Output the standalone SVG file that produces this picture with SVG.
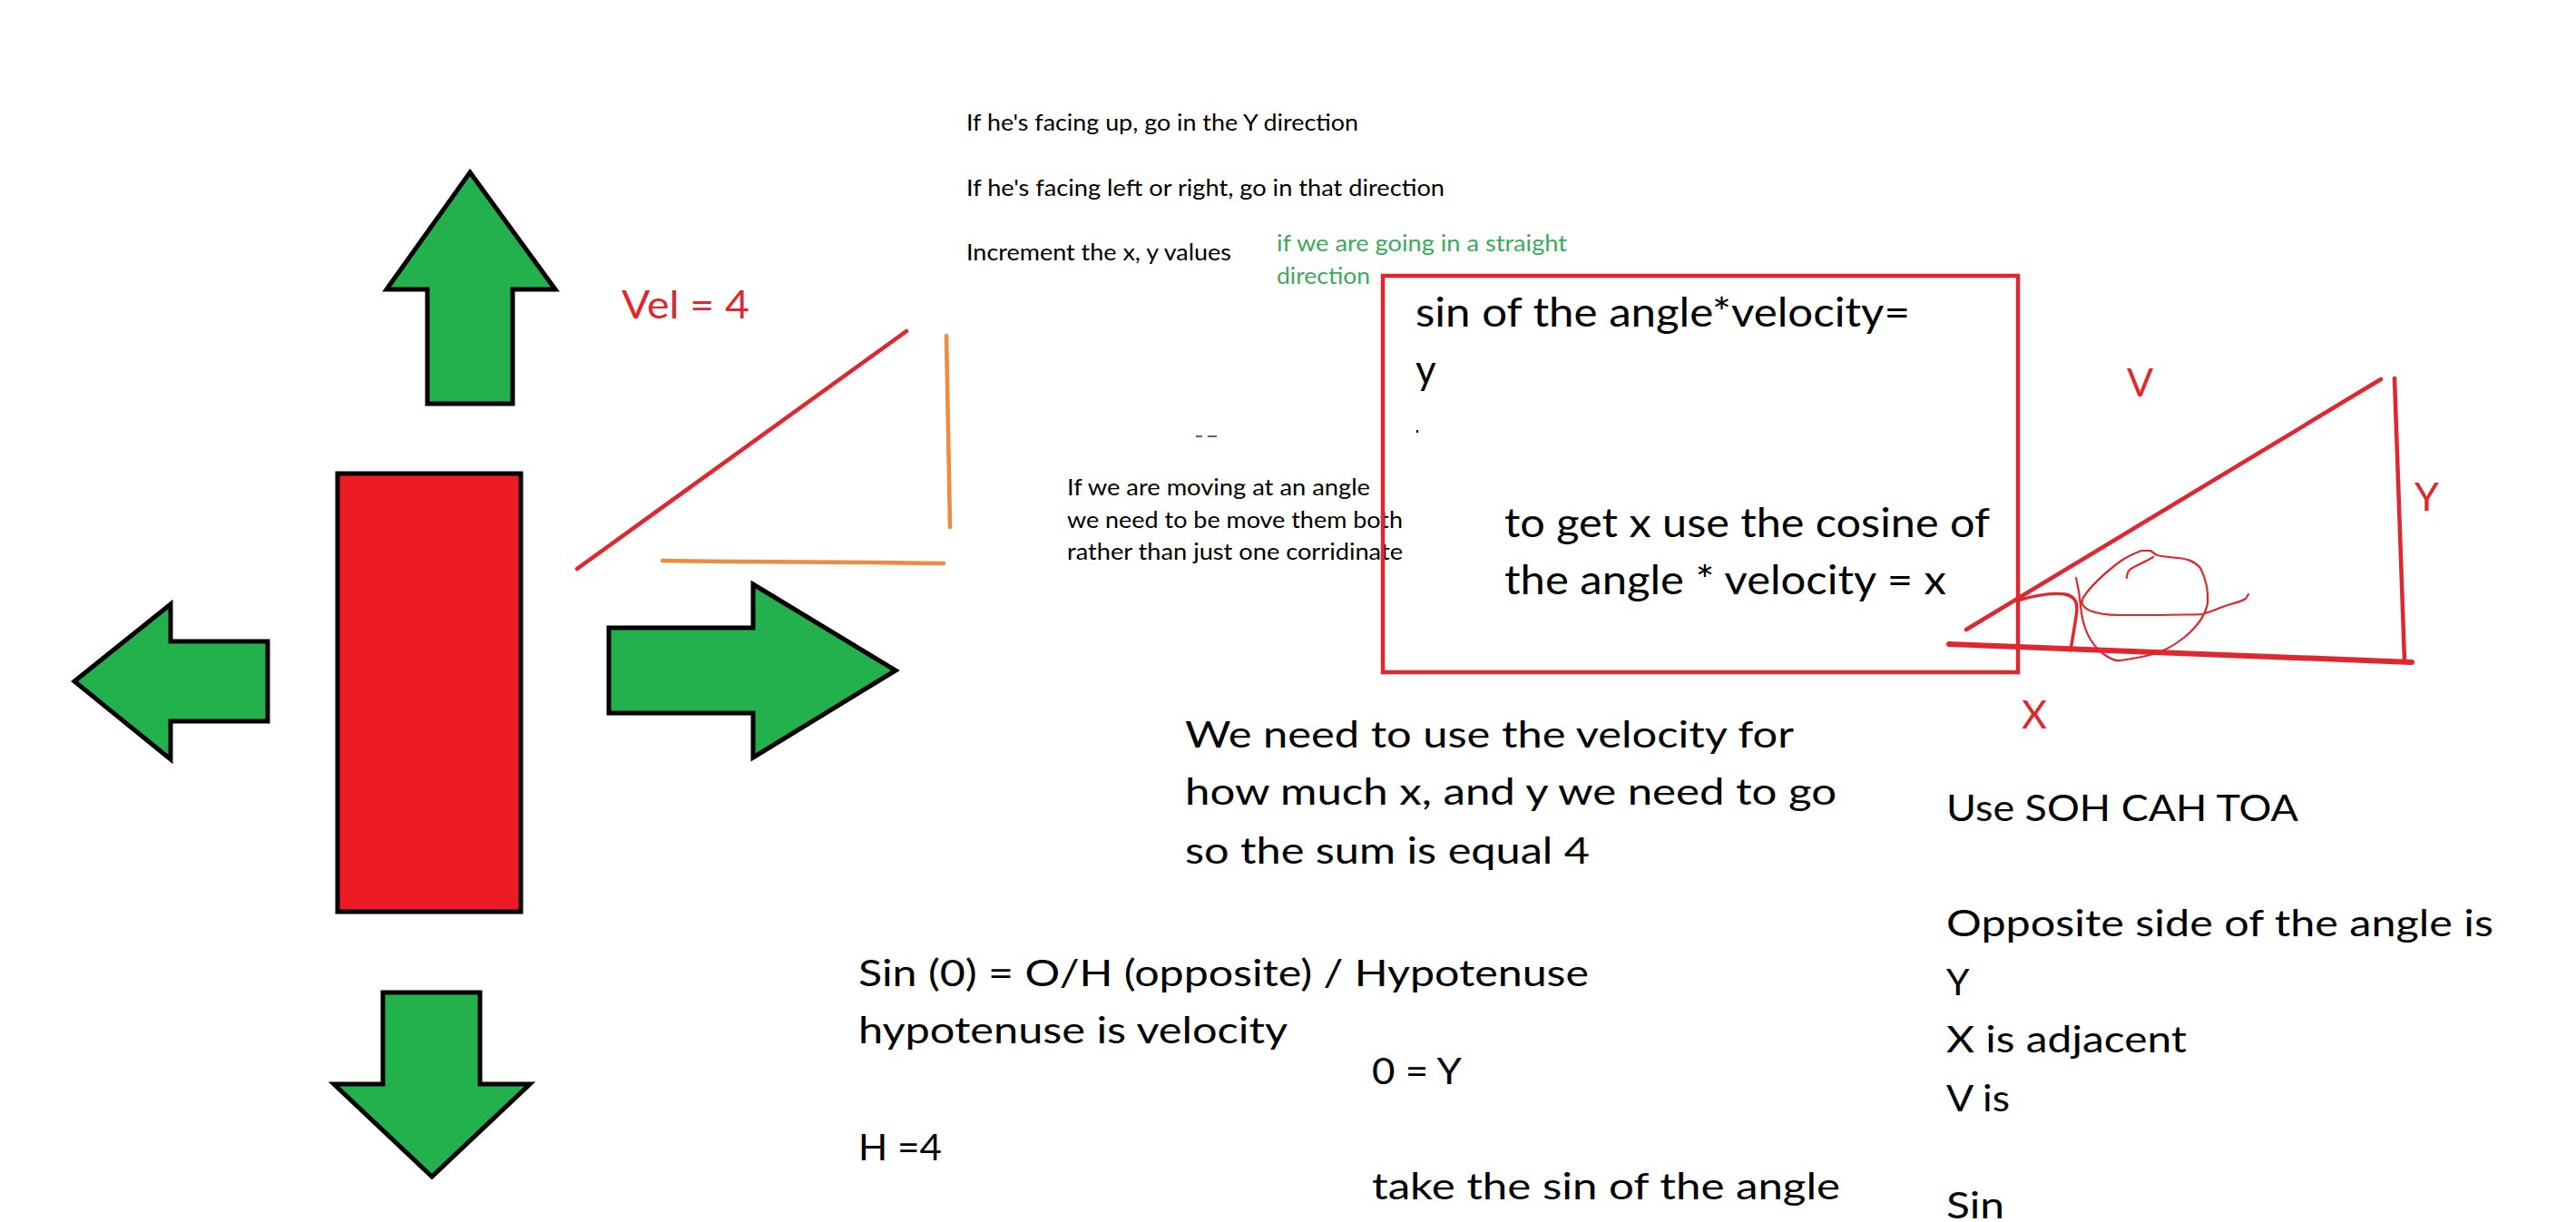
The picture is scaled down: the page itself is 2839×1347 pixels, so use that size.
<svg xmlns="http://www.w3.org/2000/svg" width="2839" height="1347" viewBox="0 0 2839 1347">
<style>
.arrow{fill:#22B14C;stroke:#000;stroke-width:5;stroke-linejoin:miter}
.t{font-family:Lato,"Liberation Sans",sans-serif;fill:#000}
.s{font-size:25px}
.m{font-size:41px}
.b{font-size:44px}
.red{fill:#E0262E}
.green{fill:#3BAA5A}
.rl{stroke:#E0262E;fill:none;stroke-linecap:round;stroke-linejoin:round}
.ol{stroke:#F08A3C;fill:none;stroke-linecap:round}
</style>
<rect width="2839" height="1347" fill="#fff"/>
<g id="player">
<rect x="372" y="522" width="202" height="483" fill="#ED1C24" stroke="#000" stroke-width="5"/>
</g>
<g id="arrow-up"><polygon class="arrow" points="518,190 612,319 565,319 565,445 471,445 471,319 426,319"/></g>
<g id="arrow-left"><polygon class="arrow" points="82,751 188,666 188,707 295,707 295,795 188,795 188,837"/></g>
<g id="arrow-right"><polygon class="arrow" points="987,739 830,835 830,786 671,786 671,692 830,692 830,644"/></g>
<g id="arrow-down"><polygon class="arrow" points="476,1297 368,1195 422,1195 422,1094 529,1094 529,1195 584,1195"/></g>
<g id="small-triangle">
<line class="rl" x1="636" y1="627" x2="999" y2="365" stroke-width="4.5"/>
<line class="ol" x1="1043" y1="370" x2="1047" y2="581" stroke-width="4.5"/>
<polyline class="ol" points="730,618 808,619 962,620 1040,621" stroke-width="4.5"/>
</g>
<g id="vel-label"><text class="t red" x="685" y="351" font-size="43" textLength="141" lengthAdjust="spacingAndGlyphs">Vel = 4</text></g>
<g id="notes-top">
<text class="t s" x="1065" y="144" textLength="432" lengthAdjust="spacingAndGlyphs">If he's facing up, go in the Y direction</text>
<text class="t s" x="1065" y="216" textLength="527" lengthAdjust="spacingAndGlyphs">If he's facing left or right, go in that direction</text>
<text class="t s" x="1065" y="287" textLength="292" lengthAdjust="spacingAndGlyphs">Increment the x, y values</text>
</g>
<g id="note-green">
<text class="t s green" x="1407" y="277" textLength="320" lengthAdjust="spacingAndGlyphs">if we are going in a straight</text>
<text class="t s green" x="1407" y="313" textLength="103" lengthAdjust="spacingAndGlyphs">direction</text>
</g>
<g id="note-angle">
<text class="t s" x="1176" y="546" textLength="334" lengthAdjust="spacingAndGlyphs">If we are moving at an angle</text>
<text class="t s" x="1176" y="582" textLength="370" lengthAdjust="spacingAndGlyphs">we need to be move them both</text>
<text class="t s" x="1176" y="617" textLength="370" lengthAdjust="spacingAndGlyphs">rather than just one corridinate</text>
</g>
<g id="marks">
<rect x="1318" y="480" width="7" height="2" fill="#666"/>
<rect x="1331" y="480" width="10" height="2" fill="#666"/>
<rect x="1561" y="474" width="2" height="3" fill="#000"/>
</g>
<g id="formula-box">
<rect x="1524" y="304" width="700" height="437" fill="none" stroke="#E0262E" stroke-width="4.5"/>
<text class="t b" x="1560" y="360" textLength="545" lengthAdjust="spacingAndGlyphs">sin of the angle*velocity=</text>
<text class="t b" x="1560" y="423">y</text>
<text class="t b" x="1658" y="592" textLength="535" lengthAdjust="spacingAndGlyphs">to get x use the cosine of</text>
<text class="t b" x="1658" y="655" textLength="487" lengthAdjust="spacingAndGlyphs">the angle * velocity = x</text>
</g>
<g id="big-triangle">
<line class="rl" x1="2167" y1="694" x2="2624" y2="418" stroke-width="4.5"/>
<line class="rl" x1="2639" y1="417" x2="2650" y2="729" stroke-width="4.5"/>
<line class="rl" x1="2148" y1="710" x2="2658" y2="730" stroke-width="6"/>
<path class="rl" d="M2223,662 C2240,657 2262,653 2276,655 C2290,658 2290,668 2288,680 L2282,717" stroke-width="3.5"/>
<path class="rl" stroke-width="2.2" d="M2288,637 C2290,645 2292,655 2293,668 C2295,690 2302,708 2317,720 C2325,726 2332,729 2337,728 C2350,726 2362,724 2373,721 C2387,717 2397,711 2408,702 C2420,692 2430,680 2433,665 C2434,652 2432,640 2425,626 C2418,618 2410,616 2400,615 C2390,614 2382,613 2377,612 L2370,607 L2360,607 C2352,610 2343,614 2335,620 C2322,630 2306,644 2297,657 C2292,664 2295,669 2303,673 C2313,677 2322,678 2335,678 C2350,678 2365,678 2380,678 C2400,677 2418,678 2427,677 C2437,674 2446,670 2455,667 C2466,664 2472,662 2475,660 L2478,655"/>
<path class="rl" stroke-width="2.2" d="M2344,637 C2344,632 2346,628 2350,626 C2357,622 2365,619 2373,614"/>
<text class="t red" x="2344" y="437" font-size="43">V</text>
<text class="t red" x="2661" y="563" font-size="43">Y</text>
<text class="t red" x="2228" y="803" font-size="43">X</text>
</g>
<g id="note-velocity">
<text class="t m" x="1306" y="824" textLength="671" lengthAdjust="spacingAndGlyphs">We need to use the velocity for</text>
<text class="t m" x="1306" y="887" textLength="718" lengthAdjust="spacingAndGlyphs">how much x, and y we need to go</text>
<text class="t m" x="1306" y="952" textLength="446" lengthAdjust="spacingAndGlyphs">so the sum is equal 4</text>
</g>
<g id="note-sin">
<text class="t m" x="946" y="1087" textLength="805" lengthAdjust="spacingAndGlyphs">Sin (0) = O/H (opposite) / Hypotenuse</text>
<text class="t m" x="946" y="1150" textLength="473" lengthAdjust="spacingAndGlyphs">hypotenuse is velocity</text>
<text class="t m" x="1512" y="1195" textLength="99" lengthAdjust="spacingAndGlyphs">0 = Y</text>
<text class="t m" x="946" y="1279" textLength="92" lengthAdjust="spacingAndGlyphs">H =4</text>
<text class="t m" x="1512" y="1322" textLength="516" lengthAdjust="spacingAndGlyphs">take the sin of the angle</text>
</g>
<g id="note-sohcahtoa">
<text class="t m" x="2145" y="905" textLength="388" lengthAdjust="spacingAndGlyphs">Use SOH CAH TOA</text>
<text class="t m" x="2145" y="1032" textLength="603" lengthAdjust="spacingAndGlyphs">Opposite side of the angle is</text>
<text class="t m" x="2145" y="1097">Y</text>
<text class="t m" x="2145" y="1160" textLength="265" lengthAdjust="spacingAndGlyphs">X is adjacent</text>
<text class="t m" x="2145" y="1225" textLength="70" lengthAdjust="spacingAndGlyphs">V is</text>
<text class="t m" x="2145" y="1343" textLength="64" lengthAdjust="spacingAndGlyphs">Sin</text>
</g>
</svg>
